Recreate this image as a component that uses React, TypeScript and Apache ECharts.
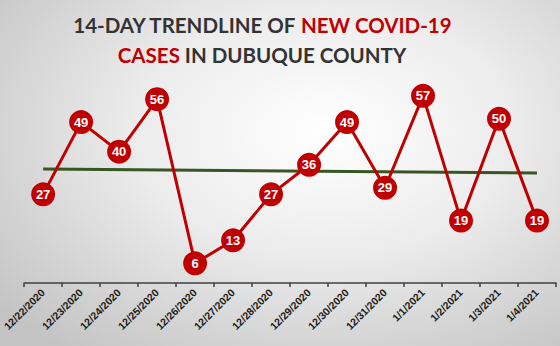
import React, { useEffect, useRef } from "react";
import * as echarts from "echarts";

const categories = [
  "12/22/2020", "12/23/2020", "12/24/2020", "12/25/2020", "12/26/2020",
  "12/27/2020", "12/28/2020", "12/29/2020", "12/30/2020", "12/31/2020",
  "1/1/2021", "1/2/2021", "1/3/2021", "1/4/2021",
];
const newCases = [27, 49, 40, 56, 6, 13, 27, 36, 49, 29, 57, 19, 50, 19];
// trendline endpoints (first and last day)
const trendStart = 34.7;
const trendEnd = 33.5;

export default function App() {
  const ref = useRef<HTMLDivElement>(null);
  useEffect(() => {
    if (!ref.current) return;
    const chart = echarts.init(ref.current, null, { renderer: "svg" });
    const trendData: (number | null)[] = categories.map((_, i) =>
      i === 0 ? trendStart : i === categories.length - 1 ? trendEnd : null
    );
    chart.setOption({
      animation: false,
      graphic: [
        {
          type: "text",
          x: 262,
          y: 10,
          style: {
            text: "{a|14-DAY TRENDLINE OF }{b|NEW COVID-19}\n{b|CASES}{a| IN DUBUQUE COUNTY}",
            align: "center",
            verticalAlign: "top",
            rich: {
              a: { fontFamily: "Lato", fontWeight: "bold", fontSize: 20.5, fill: "#333333", lineHeight: 30 },
              b: { fontFamily: "Lato", fontWeight: "bold", fontSize: 20.5, fill: "#c00000", lineHeight: 30 },
            },
          },
        },
      ],
      grid: { left: 23, right: 4, top: 86, bottom: 63 },
      xAxis: {
        type: "category",
        data: categories,
        boundaryGap: true,
        axisLine: { lineStyle: { color: "#404040", width: 1.5 } },
        axisTick: { show: true, length: 4, lineStyle: { color: "#404040", width: 1.5 } },
        axisLabel: {
          rotate: 45,
          interval: 0,
          fontFamily: "Liberation Sans",
          fontWeight: "bold",
          fontSize: 10.5,
          color: "#1a1a1a",
          margin: 8,
        },
      },
      yAxis: {
        type: "value",
        min: 0,
        max: 60,
        show: false,
        splitLine: { show: false },
      },
      series: [
        {
          type: "line",
          data: trendData,
          connectNulls: true,
          symbol: "none",
          lineStyle: { color: "#375623", width: 3 },
          z: 1,
          silent: true,
        },
        {
          type: "line",
          data: newCases,
          symbol: "circle",
          symbolSize: 24,
          lineStyle: { color: "#c00000", width: 3 },
          itemStyle: { color: "#c00000" },
          label: {
            show: true,
            position: "inside",
            color: "#ffffff",
            fontFamily: "Liberation Sans",
            fontWeight: "bold",
            fontSize: 13,
          },
          z: 2,
        },
      ],
    });
    return () => chart.dispose();
  }, []);
  return (
    <div
      ref={ref}
      style={{
        position: "absolute",
        left: 0,
        top: 0,
        width: 560,
        height: 346,
        background:
          "radial-gradient(ellipse 75% 80% at 58% 38%, #ffffff 0%, #ececec 45%, #d2d2d2 80%, #c4c4c4 100%)",
      }}
    />
  );
}
